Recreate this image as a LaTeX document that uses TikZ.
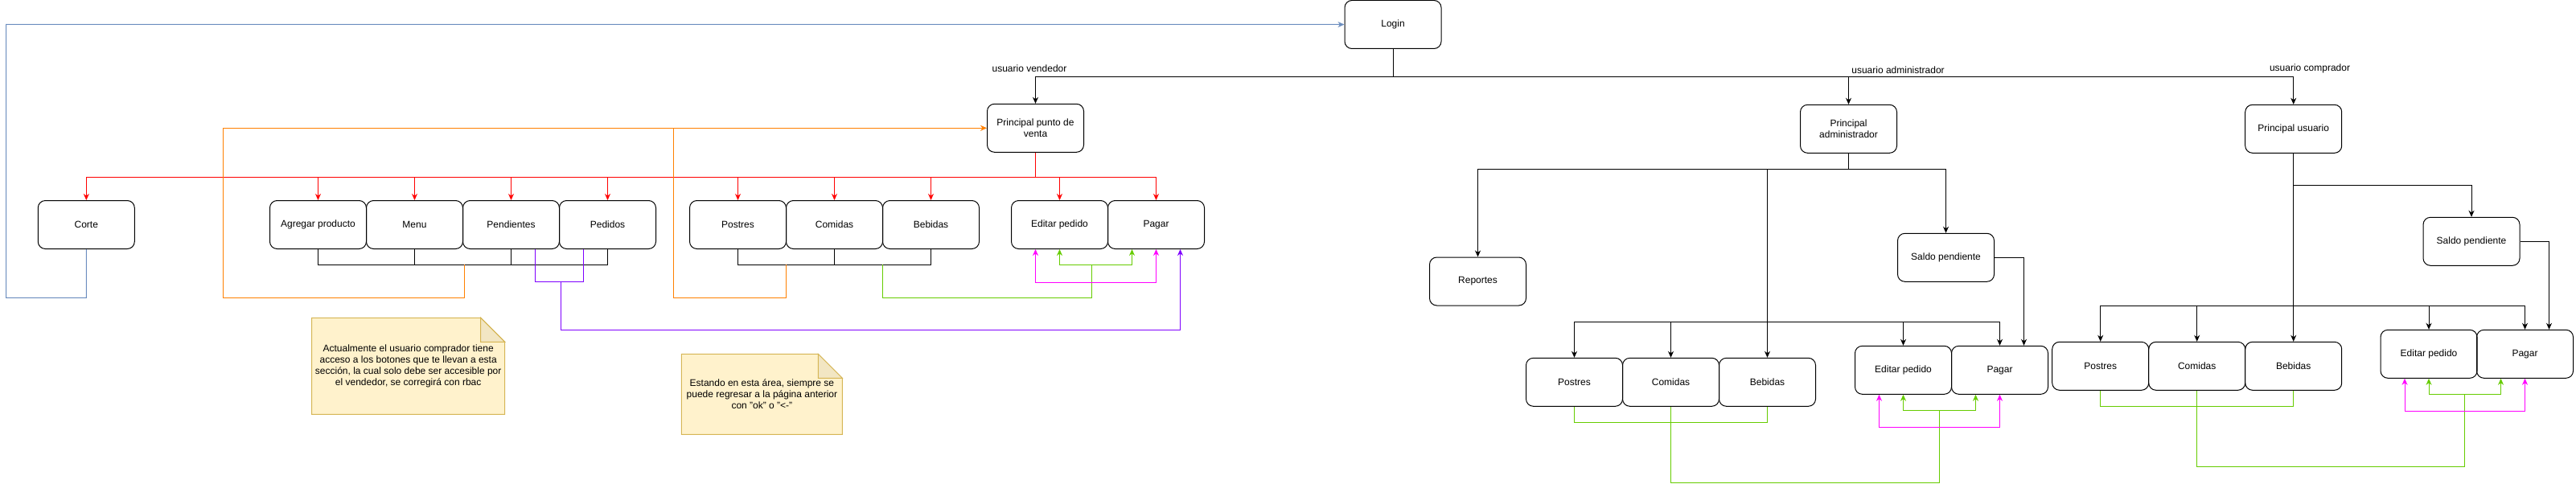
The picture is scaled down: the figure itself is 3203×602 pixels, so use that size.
\documentclass[tikz,border=0pt]{standalone}
\usepackage{fontspec}
\setmainfont{Liberation Sans}
\usetikzlibrary{arrows.meta,backgrounds}
\definecolor{vred}{HTML}{FF0000}
\definecolor{vorange}{HTML}{FF8000}
\definecolor{vblue}{HTML}{6C8EBF}
\definecolor{vgreen}{HTML}{66CC00}
\definecolor{vpink}{HTML}{FF00FF}
\definecolor{vviolet}{HTML}{7F00FF}
\definecolor{notefill}{HTML}{FFF2CC}
\definecolor{noteline}{HTML}{D6B656}
\definecolor{notefold}{HTML}{F2E6C3}
\tikzset{
  box/.style={draw, rounded corners=9pt, minimum width=120pt, minimum height=60pt,
    align=center, font=\fontsize{12}{14}\selectfont, line width=1pt},
  tip/.tip={Stealth[length=8pt,width=7pt,inset=2.5pt]},
  plain/.style={draw=black, line width=1pt},
  flow/.style={-tip, draw=black, line width=1pt},
  redflow/.style={-tip, draw=vred, line width=1pt},
  orangeflow/.style={-tip, draw=vorange, line width=1pt},
  blueflow/.style={-tip, draw=vblue, line width=1pt},
  greenline/.style={draw=vgreen, line width=1pt},
  greenflow/.style={-tip, draw=vgreen, line width=1pt},
  pinkflow/.style={tip-tip, draw=vpink, line width=1pt},
  violetflow/.style={-tip, draw=vviolet, line width=1pt},
  lab/.style={font=\fontsize{12}{14}\selectfont, inner sep=0pt},
  notetext/.style={align=center, font=\fontsize{12}{14}\selectfont, inner sep=0pt, outer sep=0pt},
  notebox/.style={fill=notefill, draw=noteline, line width=1pt},
  fold/.style={fill=notefold, draw=noteline, line width=1pt}
}

\begin{document}
\begin{tikzpicture}[x=1pt, y=-1pt]
  \useasboundingbox (0,0) rectangle (3203,602);

  % top
  \node[box] (login) at (1732,30.5) {Login};
  \node[box] (pventa) at (1287.5,159.3) {Principal punto de\\venta};
  \node[box] (padmin) at (2298.5,160.3) {Principal\\administrador};
  \node[box] (pusuario) at (2851.7,160.3) {Principal usuario};

  \node[lab] (lblvend) at (1280,85.6) {usuario vendedor};
  \node[lab] (lbladmin) at (2360,87.5) {usuario administrador};
  \node[lab] (lblcomp) at (2872,85.6) {usuario comprador};

  % vendedor
  \node[box] (corte) at (107.3,279.5) {Corte};
  \node[box] (agregar) at (395.5,279.5) {Agregar producto};
  \node[box] (menu) at (515.5,279.5) {Menu};
  \node[box] (pendientes) at (635.5,279.5) {Pendientes};
  \node[box] (pedidos) at (755.5,279.5) {Pedidos};
  \node[box] (postresV) at (917.5,279.5) {Postres};
  \node[box] (comidasV) at (1037.5,279.5) {Comidas};
  \node[box] (bebidasV) at (1157.5,279.5) {Bebidas};
  \node[box] (editarV) at (1317.5,279.5) {Editar pedido};
  \node[box] (pagarV) at (1437.5,279.5) {Pagar};

  % administrador
  \node[box] (reportes) at (1837.5,350) {Reportes};
  \node[box] (saldoA) at (2419.5,320.3) {Saldo pendiente};
  \node[box] (postresA) at (1957.5,475.3) {Postres};
  \node[box] (comidasA) at (2077.5,475.3) {Comidas};
  \node[box] (bebidasA) at (2197.5,475.3) {Bebidas};
  \node[box] (editarA) at (2366.5,460.3) {Editar pedido};
  \node[box] (pagarA) at (2486.5,460.3) {Pagar};

  % comprador
  \node[box] (saldoU) at (3073,300.3) {Saldo pendiente};
  \node[box] (postresU) at (2611.7,455.3) {Postres};
  \node[box] (comidasU) at (2731.7,455.3) {Comidas};
  \node[box] (bebidasU) at (2851.7,455.3) {Bebidas};
  \node[box] (editarU) at (3020,440.3) {Editar pedido};
  \node[box] (pagarU) at (3139.5,440.3) {Pagar};

  % notes
  \node[notetext, minimum width=240pt, minimum height=120pt] (note1) at (507.7,455.3)
    {Actualmente el usuario comprador tiene\\acceso a los botones que te llevan a esta\\sección, la cual solo debe ser accesible por\\el vendedor, se corregirá con rbac};
  \node[notetext, minimum width=200pt, minimum height=100pt] (note2) at (947.4,490.4)
    {Estando en esta área, siempre se\\puede regresar a la página anterior\\con "ok" o "<-"};
  \begin{scope}[on background layer]
    \foreach \n in {note1,note2} {
      \draw[notebox] (\n.north west) -- ([xshift=-30pt]\n.north east)
        -- ([yshift=-30pt]\n.north east) -- (\n.south east) -- (\n.south west) -- cycle;
      \draw[fold] ([xshift=-30pt]\n.north east) -- ([xshift=-30pt,yshift=-30pt]\n.north east)
        -- ([yshift=-30pt]\n.north east) -- cycle;
    }
  \end{scope}

  % login to the three users
  \coordinate (ubus) at (1732,95.2);
  \foreach \n in {pventa,padmin,pusuario}
    \draw[flow] (login.south) -- (ubus) -| (\n.north);

  % vendedor, red bus
  \coordinate (rbus) at (1287.5,220.7);
  \foreach \n in {corte,agregar,menu,pendientes,pedidos,postresV,comidasV,bebidasV,editarV,pagarV}
    \draw[redflow] (pventa.south) -- (rbus) -| (\n.north);

  % back to login
  \coordinate (c1) at (107.3,370.4);
  \coordinate (c2) at (7.6,30.3);
  \draw[blueflow] (corte.south) -- (c1) -| (c2) -- (login.west);

  % back to principal punto de venta
  \coordinate (bus1) at (577.5,329.4);
  \foreach \n in {agregar,menu,pendientes,pedidos}
    \draw[plain] (\n.south) |- (bus1);
  \coordinate (o1) at (577.5,370.4);
  \coordinate (o2) at (277.6,159.3);
  \draw[orangeflow] (bus1) -- (o1) -| (o2) -- (pventa.west);

  \coordinate (bus2) at (977.5,329.4);
  \foreach \n in {postresV,comidasV,bebidasV}
    \draw[plain] (\n.south) |- (bus2);
  \coordinate (o3) at (977.5,370.4);
  \coordinate (o4) at (837.3,159.3);
  \draw[vorange, line width=1pt] (bus2) -- (o3) -| (o4);

  % to pagar / editar
  \coordinate (g1) at (1097.4,329.4);
  \coordinate (g2) at (1097.4,370.4);
  \coordinate (gV) at (1357.5,329.4);
  \draw[greenline] (g1) -- (g2) -| (gV);
  \draw[greenflow] (gV) -| (editarV.south);
  \draw[greenflow] (gV) -| ([xshift=-30pt]pagarV.south);
  \draw[pinkflow] ([xshift=-30pt]editarV.south) -- ++(0,41.1) -| (pagarV.south);

  \coordinate (pj) at (697.4,350.5);
  \coordinate (p1) at (697.4,410.4);
  \draw[vviolet, line width=1pt] ([xshift=30pt]pendientes.south) |- (pj);
  \draw[vviolet, line width=1pt] ([xshift=-30pt]pedidos.south) |- (pj);
  \draw[violetflow] (pj) -- (p1) -| ([xshift=30pt]pagarV.south);

  % administrador
  \coordinate (abus) at (2298.5,210.4);
  \coordinate (abus2) at (2197.5,400.4);
  \draw[flow] (padmin.south) -- (abus) -| (reportes.north);
  \draw[flow] (abus) -| (saldoA.north);
  \draw[flow] (abus) -| (bebidasA.north);
  \foreach \n in {postresA,comidasA,editarA,pagarA}
    \draw[flow] (abus2) -| (\n.north);
  \draw[flow] (saldoA.east) -| ([xshift=30pt]pagarA.north);

  \coordinate (ga) at (2077.5,525.1);
  \coordinate (ga1) at (2077.5,600);
  \coordinate (gA) at (2411.5,510.2);
  \draw[greenline] (postresA.south) |- (ga);
  \draw[greenline] (bebidasA.south) |- (ga);
  \draw[greenline] (comidasA.south) -- (ga1) -| (gA);
  \draw[greenflow] (gA) -| (editarA.south);
  \draw[greenflow] (gA) -| ([xshift=-30pt]pagarA.south);
  \draw[pinkflow] ([xshift=-30pt]editarA.south) -- ++(0,41.1) -| (pagarA.south);

  % comprador
  \coordinate (cbus) at (2851.7,230.3);
  \coordinate (cbus2) at (2851.7,380.4);
  \draw[flow] (pusuario.south) -- (cbus) -| (saldoU.north);
  \draw[flow] (pusuario.south) -- (bebidasU.north);
  \foreach \n in {postresU,comidasU,editarU,pagarU}
    \draw[flow] (cbus2) -| (\n.north);
  \draw[flow] (saldoU.east) -| ([xshift=30pt]pagarU.north);

  \coordinate (gc) at (2731.7,505.2);
  \coordinate (gc1) at (2731.7,580);
  \coordinate (gU) at (3064.8,490.2);
  \draw[greenline] (postresU.south) |- (gc);
  \draw[greenline] (bebidasU.south) |- (gc);
  \draw[greenline] (comidasU.south) -- (gc1) -| (gU);
  \draw[greenflow] (gU) -| (editarU.south);
  \draw[greenflow] (gU) -| ([xshift=-30pt]pagarU.south);
  \draw[pinkflow] ([xshift=-30pt]editarU.south) -- ++(0,41.1) -| (pagarU.south);
\end{tikzpicture}
\end{document}
